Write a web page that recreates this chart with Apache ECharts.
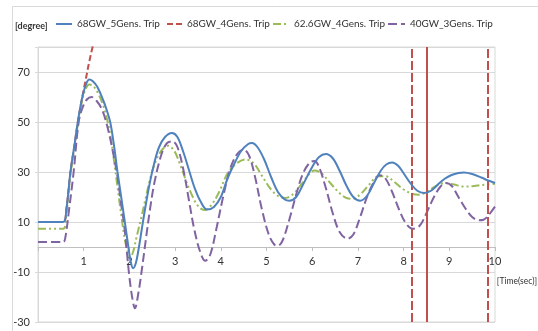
<!DOCTYPE html>
<html>
<head>
<meta charset="utf-8">
<script src="https://cdn.jsdelivr.net/npm/echarts@6/dist/echarts.min.js"></script>
<style>
html,body{margin:0;padding:0;background:#fff;}
#chart{width:538px;height:331px;}
</style>
</head>
<body>
<div id="chart"></div>
<script>
// ---- Data ----
const seriesNames = ['68GW_5Gens. Trip', '68GW_4Gens. Trip', '62.6GW_4Gens. Trip', '40GW_3Gens. Trip'];

const blueT = [0,0.55,0.62,0.71,0.8,0.88,0.97,1.05,1.12,1.2,1.3,1.42,1.5,1.58,1.66,1.74,1.82,1.9,1.97,2.03,2.08,2.14,2.2,2.27,2.35,2.45,2.55,2.65,2.78,2.93,3.05,3.18,3.3,3.42,3.55,3.7,3.85,4.0,4.15,4.3,4.45,4.6,4.68,4.8,4.95,5.1,5.25,5.4,5.5,5.65,5.8,6.0,6.15,6.3,6.45,6.6,6.75,6.9,7.05,7.2,7.35,7.5,7.62,7.75,7.88,8.0,8.15,8.3,8.45,8.6,8.75,8.9,9.05,9.2,9.32,9.5,9.7,9.85,10];
const blueV = [10,10,15,30,41,51,60,65,67,66.3,64,59,55,50,41,30,20,10,1,-6,-8.5,-6.5,-1,7,16,26,34,40,44,45.6,44,38,31,24,18.5,15,16,20,27.5,33.5,38.5,41.2,41.6,40,35,28,22,19,18.5,20,25,32,36,37.2,35.5,30.5,24.5,20,18.5,20.5,25.5,30.5,33,33.8,32.5,29.5,25.5,22.5,21.6,22.5,25,27.3,28.8,29.6,29.8,29.2,27.8,26.6,25.6];

const redT = [0,0.55,0.62,0.71,0.8,0.88,0.97,1.05,1.12,1.2,1.3];
const redV = [10,10,15,30,41,51,60,67.5,74,80.5,88];

const greenT = [0,0.55,0.62,0.71,0.8,0.88,0.97,1.05,1.12,1.2,1.3,1.42,1.5,1.58,1.66,1.74,1.82,1.9,1.97,2.02,2.08,2.15,2.25,2.35,2.45,2.58,2.72,2.85,2.98,3.1,3.25,3.4,3.52,3.64,3.78,3.95,4.15,4.35,4.55,4.72,4.9,5.1,5.27,5.42,5.6,5.8,5.95,6.05,6.2,6.4,6.6,6.75,6.88,7.05,7.25,7.45,7.6,7.8,8.0,8.2,8.34,8.5,8.7,8.9,9.1,9.3,9.5,9.7,10];
const greenV = [7.3,7.3,13,29,40,50,59,63.5,65,64.5,62,57,52,45,35,24,13,3,-2.5,-4,-2,3.5,11,19,27,34.5,39,40.5,38.5,33.5,26,19.5,16,14.8,16.5,21.5,29.5,33.5,35,33.5,28.5,23,20.2,19.6,21.5,26,29.5,30.6,29.5,25.5,21.5,19.6,19.3,21,25,28.3,28.3,26,23,21.2,20.9,22,24.3,25.6,25,24.2,24.3,24.8,25.3];

const purpleT = [0,0.55,0.6,0.68,0.78,0.89,0.98,1.07,1.17,1.28,1.4,1.52,1.64,1.74,1.82,1.89,1.95,2.0,2.06,2.12,2.2,2.28,2.36,2.45,2.55,2.7,2.82,2.94,3.05,3.18,3.3,3.42,3.55,3.66,3.77,3.9,4.05,4.2,4.35,4.5,4.62,4.75,4.9,5.05,5.17,5.25,5.35,5.5,5.65,5.8,5.95,6.05,6.15,6.3,6.45,6.6,6.77,6.9,7.05,7.2,7.35,7.48,7.6,7.75,7.9,8.05,8.2,8.35,8.5,8.65,8.8,8.92,9.05,9.2,9.35,9.5,9.65,9.75,9.85,10];
const purpleV = [2,2,4,15,30,50,56,59,60,58.5,55,48,38,28,17,8,-3,-12,-20,-24.5,-18,-8,3,15,26,37,41.5,42.3,40,31,19,7,-2,-5.5,-3,7,20,31,37,39,36.5,28,15,5,1,0.5,2.5,11,21,29.5,33.8,34.4,32,23.5,13.5,6,3.3,5,12,20,26,28.7,27.5,22,15,9.5,7.3,8.5,13.5,19.5,24,25.6,24.5,20,15.5,12,10.7,10.9,12.5,16.2];

// vertical red markers (time in sec)
const redDashedMarkT = [8.18, 9.84];
const redSolidMarkT = [8.51];

const xTicks = [0,1,2,3,4,5,6,7,8,9,10];
const yTicks = [-30,-10,10,30,50,70];
const yMax = 80;

// ---- Build ----
const zip = (t, v) => t.map((x, i) => [x, v[i]]);
const FONT = 'Lato';
const grid = '#D9D9D9';
const gridTop = 47, gridBottom = 9, H = 331;
const plotH = H - gridTop - gridBottom;
// move the x axis up so it sits on value 0
const zeroOffset = -plotH * (0 - yTicks[0]) / (yMax - yTicks[0]);

// legend font size fitted so the text spans the same width as in the reference
const ctx = document.createElement('canvas').getContext('2d');
ctx.font = '11px ' + FONT;
const measured = ctx.measureText(seriesNames[0]).width;
const legendFs = Math.max(9, Math.min(11, 11 * 83 / measured));

// one legend box per entry so each sits where the reference has it
const legendTextStart = [76, 186, 293, 409];
const legendIconW = [16, 15, 16, 17];
const legends = seriesNames.map((n, i) => ({
  left: legendTextStart[i] - 5 - legendIconW[i], top: 19, padding: 0,
  itemWidth: legendIconW[i], itemHeight: 12, itemGap: 0,
  itemStyle: {opacity: 0},
  textStyle: {fontSize: legendFs, color: '#333', fontFamily: FONT},
  data: [n]
}));

const chart = echarts.init(document.getElementById('chart'), null, {renderer: 'canvas'});
const option = {
  animation: false,
  backgroundColor: '#ffffff',
  textStyle: {fontFamily: FONT},
  grid: {left: 38, right: 43, top: gridTop, bottom: gridBottom, show: true, borderColor: grid, borderWidth: 1, backgroundColor: 'transparent'},
  legend: legends,
  graphic: [
    {type: 'rect', left: 10, top: 4, shape: {width: 560, height: 360}, style: {fill: 'none', stroke: '#D9D9D9', lineWidth: 1}, silent: true, z: -1},
    {type: 'text', x: 15, y: 26, style: {text: '[degree]', fontSize: 9, fontWeight: 'bold', fill: '#333', fontFamily: FONT, verticalAlign: 'middle', align: 'left'}},
    {type: 'text', x: 537, y: 281, style: {text: '[Time(sec)]', fontSize: 8.5, fill: '#333', fontFamily: FONT, verticalAlign: 'middle', align: 'right'}}
  ],
  xAxis: {
    type: 'value', min: xTicks[0], max: xTicks[xTicks.length - 1], interval: 1,
    offset: zeroOffset,
    axisLine: {show: true, onZero: false, lineStyle: {color: '#BFBFBF', width: 1}},
    axisTick: {show: true, length: 4, lineStyle: {color: '#BFBFBF'}},
    axisLabel: {margin: 9, fontSize: 11, color: '#333', fontFamily: FONT, formatter: v => (v === 0 ? '' : String(v))},
    splitLine: {show: false}
  },
  yAxis: {
    type: 'value', min: yTicks[0], max: yMax, interval: 20,
    axisLine: {show: true, lineStyle: {color: grid}},
    axisTick: {show: true, length: 3, lineStyle: {color: grid}},
    axisLabel: {margin: 8, fontSize: 11, color: '#333', fontFamily: FONT, formatter: v => (yTicks.indexOf(v) >= 0 ? String(v) : '')},
    splitLine: {lineStyle: {color: grid}}
  },
  series: [
    {name: seriesNames[0], type: 'line', data: zip(blueT, blueV), showSymbol: false, symbol: 'none', smooth: 0.35,
     lineStyle: {color: '#4F81BD', width: 2}, itemStyle: {color: '#4F81BD'}, z: 5},
    {name: seriesNames[1], type: 'line', data: zip(redT, redV), showSymbol: false, symbol: 'none', smooth: 0.35,
     lineStyle: {color: '#C0504D', width: 2, type: [6, 3]}, itemStyle: {color: '#C0504D'}, z: 2,
     markLine: {silent: true, symbol: ['none', 'none'], label: {show: false}, animation: false,
       data: redDashedMarkT.map(t => ({xAxis: t, lineStyle: {color: '#C0504D', width: 2, type: [9, 3]}}))
         .concat(redSolidMarkT.map(t => ({xAxis: t, lineStyle: {color: '#C0504D', width: 2, type: 'solid'}})))}},
    {name: seriesNames[2], type: 'line', data: zip(greenT, greenV), showSymbol: false, symbol: 'none', smooth: 0.35,
     lineStyle: {color: '#9BBB59', width: 2, type: [8, 3, 2, 3, 2, 3]}, itemStyle: {color: '#9BBB59'}, z: 3},
    {name: seriesNames[3], type: 'line', data: zip(purpleT, purpleV), showSymbol: false, symbol: 'none', smooth: 0.35,
     lineStyle: {color: '#8064A2', width: 2, type: [9, 4]}, itemStyle: {color: '#8064A2'}, z: 4}
  ]
};
chart.setOption(option);
</script>
</body>
</html>
